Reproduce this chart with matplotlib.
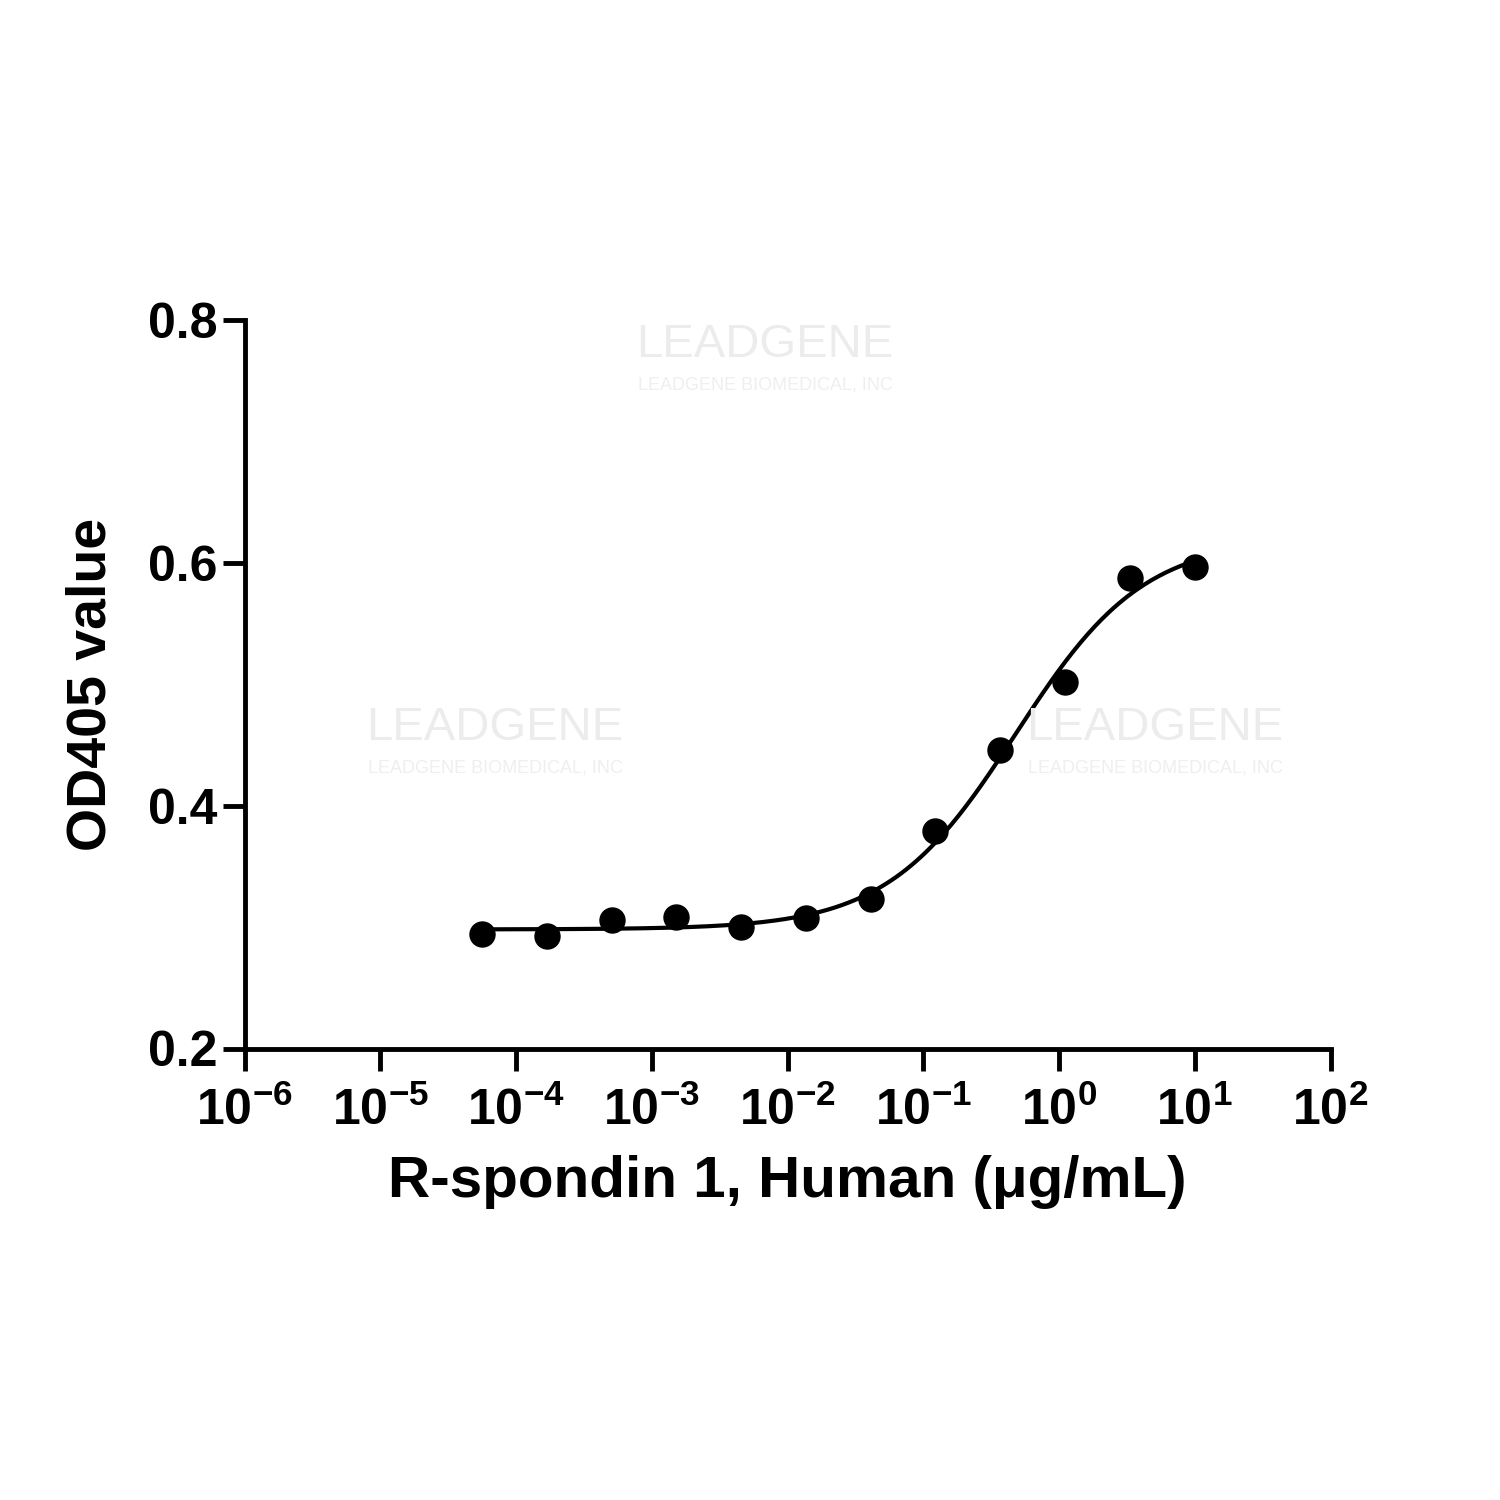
import numpy as np
import matplotlib
matplotlib.use("Agg")
import matplotlib.pyplot as plt

conc = [5.6e-5, 1.69e-4, 5.08e-4, 1.52e-3, 4.57e-3, 1.37e-2, 4.1e-2, 0.123, 0.37, 1.11, 3.33, 10.0]
od = [0.294, 0.293, 0.306, 0.308, 0.300, 0.307, 0.323, 0.379, 0.446, 0.502, 0.587, 0.596]
xticks = [1e-6, 1e-5, 1e-4, 1e-3, 1e-2, 1e-1, 1e0, 1e1, 1e2]
xlabels = [r"$\mathbf{10^{-6}}$", r"$\mathbf{10^{-5}}$", r"$\mathbf{10^{-4}}$", r"$\mathbf{10^{-3}}$",
           r"$\mathbf{10^{-2}}$", r"$\mathbf{10^{-1}}$", r"$\mathbf{10^{0}}$", r"$\mathbf{10^{1}}$", r"$\mathbf{10^{2}}$"]
yticks = [0.2, 0.4, 0.6, 0.8]
# 4PL fit parameters
bottom, top, ec50, hill = 0.298, 0.62, 0.48, 0.92

plt.rcParams['font.family'] = ['Liberation Sans', 'DejaVu Sans']
plt.rcParams['mathtext.fontset'] = 'custom'
plt.rcParams['mathtext.rm'] = 'Liberation Sans:bold'
plt.rcParams['mathtext.bf'] = 'Liberation Sans:bold'

fig = plt.figure(figsize=(15, 15), dpi=100)
# watermarks
for (x, y) in [(0.51, 0.77), (0.33, 0.515), (0.77, 0.515)]:
    fig.text(x, y, "LEADGENE", color="#ececec", fontsize=34, ha="center", va="center", zorder=0)
    fig.text(x, y - 0.027, "LEADGENE BIOMEDICAL, INC", color="#efefef", fontsize=13, ha="center", va="center", zorder=0)

ax = fig.add_axes([0.163, 0.301, 0.724, 0.486])
ax.patch.set_alpha(0)
ax.set_xscale('log')
ax.set_xlim(1e-6, 1e2)
ax.set_ylim(0.2, 0.8)
xs = np.logspace(np.log10(conc[0]), np.log10(conc[-1]), 300)
ys = bottom + (top - bottom) / (1 + (ec50 / xs) ** hill)
ax.plot(xs, ys, color='black', lw=3)
ax.plot(conc, od, 'o', color='black', ms=18)
ax.spines['top'].set_visible(False)
ax.spines['right'].set_visible(False)
for s in ['left', 'bottom']:
    ax.spines[s].set_linewidth(3.5)
ax.set_xticks(xticks)
ax.set_xticklabels(xlabels)
ax.xaxis.set_minor_locator(matplotlib.ticker.NullLocator())
ax.set_yticks(yticks)
ax.set_yticklabels([f"{v:.1f}" for v in yticks], fontweight='bold')
ax.tick_params(axis='both', which='major', width=3.5, length=16, labelsize=36, direction='out')
ax.tick_params(axis='x', pad=12)
ax.set_xlabel("R-spondin 1, Human (μg/mL)", fontsize=42, fontweight='bold', labelpad=14)
ax.set_ylabel("OD405 value", fontsize=40, fontweight='bold', labelpad=22)
fig.savefig("out.png", dpi=100)
